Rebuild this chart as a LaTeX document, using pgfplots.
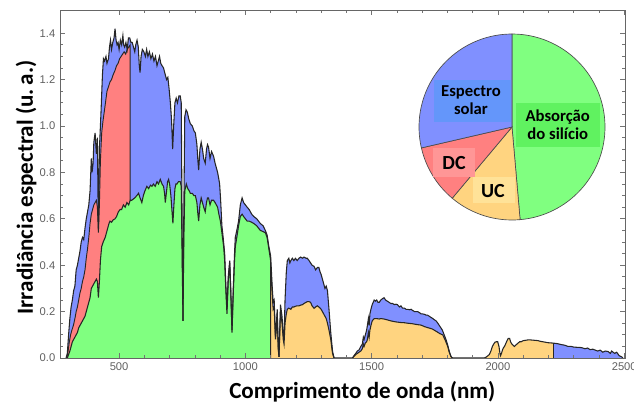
\documentclass[border=0pt]{standalone}
\usepackage{fontspec}
\setmainfont{Liberation Sans}
\newfontfamily\calib{Carlito}
\usepackage{pgfplots}
\pgfplotsset{compat=1.18}
\definecolor{cblue}{RGB}{128,144,255}
\definecolor{cred}{RGB}{255,128,128}
\definecolor{cgreen}{RGB}{128,255,128}
\definecolor{corange}{RGB}{255,212,128}
\definecolor{bblue}{RGB}{100,150,250}
\definecolor{bgreen}{RGB}{96,242,96}
\definecolor{bred}{RGB}{255,150,150}
\definecolor{borange}{RGB}{255,226,152}
\begin{document}
\begin{tikzpicture}
\begin{axis}[
  at={(0,0)}, anchor=south west,
  scale only axis, width=423.75pt, height=261pt,
  xmin=266, xmax=2503, ymin=0, ymax=1.5,
  xtick={500,1000,1500,2000,2500}, minor x tick num=4,
  ytick={0,0.2,0.4,0.6,0.8,1.0,1.2,1.4}, minor y tick num=3,
  tick align=inside, xtick pos=both, ytick pos=both,
  major tick length=4pt, minor tick length=2pt,
  tick style={black!55, line width=0.5pt},
  axis line style={black!60, line width=0.6pt},
  axis on top,
  ticklabel style={font=\fontsize{8.4}{9}\selectfont, text=black!62},
  /pgf/number format/assume math mode=true,
  yticklabel style={/pgf/number format/fixed, /pgf/number format/fixed zerofill, /pgf/number format/precision=1},
  xticklabel style={/pgf/number format/1000 sep={}},
  xlabel={Comprimento de onda (nm)},
  ylabel={Irradiância espectral (u.\,a.)},
  every axis x label/.style={at={(axis description cs:0.535,0)}, anchor=base, yshift=-30pt, font=\calib\bfseries\fontsize{17.3}{19}\selectfont},
  every axis y label/.style={at={(axis description cs:0,0.49)}, anchor=base, rotate=90, yshift=20.25pt, font=\calib\bfseries\fontsize{17.3}{19}\selectfont},
]
% solar spectrum (blue)
\addplot[fill=cblue, draw=none] coordinates {
(290,0)(295,0.02)(300,0.10)(305,0.17)(310,0.22)(315,0.25)(320,0.29)(325,0.31)(330,0.38)(335,0.40)(340,0.43)(345,0.46)(350,0.50)(355,0.52)(360,0.51)(365,0.56)(370,0.60)(375,0.63)(380,0.66)(385,0.72)(390,0.86)(393,0.80)(397,0.84)(400,0.93)(405,0.97)(410,0.88)(414,0.95)(418,0.55)(422,0.90)(428,1.05)(434,1.22)(438,1.29)(442,1.28)(448,1.30)(452,1.27)(458,1.29)(462,1.34)(466,1.37)(470,1.33)(475,1.36)(480,1.38)(484,1.42)(488,1.37)(492,1.35)(496,1.36)(500,1.33)(505,1.37)(510,1.35)(515,1.39)(518,1.35)(522,1.34)(527,1.36)(532,1.33)(537,1.38)(542,1.38)(547,1.36)(552,1.36)(557,1.34)(562,1.32)(566,1.35)(571,1.37)(576,1.34)(580,1.26)(583,1.23)(587,1.30)(592,1.33)(598,1.32)(604,1.30)(609,1.33)(614,1.30)(620,1.32)(626,1.29)(632,1.31)(638,1.28)(644,1.30)(650,1.26)(655,1.28)(660,1.30)(665,1.27)(670,1.26)(676,1.25)(683,1.22)(688,1.20)(693,1.21)(698,1.16)(703,1.10)(708,1.02)(712,0.90)(716,1.00)(721,1.10)(726,1.12)(731,1.10)(737,1.13)(742,1.13)(746,1.10)(750,0.50)(753,0.16)(756,0.60)(760,1.04)(765,1.07)(770,1.06)(776,1.03)(782,1.01)(790,1.00)(796,0.98)(802,0.97)(808,0.92)(812,0.85)(815,0.81)(820,0.90)(825,0.93)(830,0.90)(835,0.86)(841,0.84)(846,0.90)(850,0.92)(854,0.91)(860,0.86)(866,0.89)(870,0.88)(874,0.87)(880,0.84)(885,0.82)(890,0.80)(895,0.77)(898,0.75)(902,0.68)(907,0.57)(912,0.52)(918,0.45)(922,0.33)(927,0.21)(932,0.35)(938,0.42)(942,0.30)(947,0.12)(952,0.30)(957,0.45)(960,0.52)(966,0.55)(973,0.59)(980,0.66)(987,0.69)(993,0.67)(1000,0.66)(1007,0.65)(1015,0.64)(1025,0.62)(1033,0.61)(1045,0.60)(1059,0.58)(1070,0.57)(1079,0.55)(1086,0.53)(1093,0.48)(1100,0.44)(1106,0.31)(1110,0.24)(1114,0.25)(1119,0.09)(1123,0.15)(1126,0.21)(1130,0.05)(1133,0.005)(1136,0.12)(1139,0.23)(1145,0.18)(1150,0.10)(1153,0.08)(1157,0.25)(1162,0.37)(1166,0.42)(1172,0.43)(1176,0.41)(1180,0.42)(1186,0.43)(1192,0.42)(1198,0.43)(1205,0.42)(1212,0.43)(1219,0.435)(1226,0.43)(1232,0.435)(1240,0.43)(1245,0.43)(1252,0.42)(1258,0.41)(1264,0.40)(1272,0.395)(1278,0.38)(1285,0.39)(1291,0.39)(1296,0.37)(1300,0.36)(1305,0.34)(1310,0.32)(1315,0.30)(1320,0.31)(1325,0.29)(1331,0.21)(1338,0.11)(1345,0.03)(1351,0.0)(1424,0.0)(1430,0.01)(1437,0.02)(1443,0.03)(1450,0.035)(1457,0.05)(1463,0.06)(1467,0.09)(1470,0.08)(1475,0.10)(1480,0.12)(1483,0.14)(1487,0.17)(1490,0.14)(1493,0.19)(1497,0.21)(1502,0.23)(1506,0.24)(1510,0.25)(1515,0.245)(1520,0.25)(1525,0.24)(1530,0.24)(1536,0.25)(1542,0.255)(1549,0.26)(1555,0.25)(1562,0.245)(1569,0.24)(1576,0.235)(1583,0.235)(1590,0.23)(1596,0.232)(1602,0.23)(1610,0.22)(1616,0.225)(1622,0.215)(1630,0.215)(1636,0.21)(1642,0.21)(1650,0.208)(1656,0.21)(1662,0.205)(1670,0.20)(1676,0.20)(1682,0.20)(1690,0.195)(1696,0.19)(1702,0.19)(1710,0.188)(1715,0.185)(1721,0.185)(1728,0.18)(1735,0.175)(1742,0.17)(1748,0.165)(1755,0.16)(1762,0.15)(1768,0.14)(1774,0.13)(1780,0.12)(1787,0.10)(1794,0.08)(1800,0.06)(1807,0.03)(1814,0.006)(1820,0.0)(1946,0.0)(1955,0.005)(1960,0.01)(1966,0.015)(1972,0.03)(1978,0.05)(1983,0.06)(1988,0.068)(1993,0.07)(1999,0.07)(2004,0.05)(2008,0.02)(2010,0.01)(2014,0.02)(2018,0.035)(2022,0.045)(2026,0.05)(2030,0.06)(2036,0.075)(2041,0.085)(2046,0.085)(2050,0.07)(2055,0.06)(2060,0.055)(2065,0.05)(2070,0.055)(2075,0.06)(2080,0.065)(2086,0.07)(2092,0.07)(2100,0.075)(2108,0.076)(2118,0.078)(2128,0.078)(2138,0.077)(2148,0.076)(2158,0.075)(2168,0.072)(2178,0.07)(2188,0.068)(2198,0.066)(2210,0.065)(2221,0.064)(2235,0.062)(2250,0.058)(2265,0.055)(2277,0.05)(2290,0.05)(2300,0.047)(2315,0.046)(2330,0.045)(2345,0.04)(2355,0.043)(2365,0.036)(2375,0.038)(2383,0.035)(2395,0.03)(2405,0.034)(2415,0.025)(2425,0.03)(2436,0.028)(2445,0.02)(2450,0.03)(2462,0.02)(2470,0.025)(2480,0.01)(2490,0.005)(2495,0)
} \closedcycle;
% DC (red)
\addplot[fill=cred, draw=none] coordinates {
(293,0)(298,0.03)(303,0.07)(308,0.10)(313,0.12)(319,0.14)(325,0.17)(330,0.20)(335,0.22)(340,0.25)(345,0.28)(350,0.30)(355,0.33)(360,0.35)(365,0.38)(370,0.43)(375,0.47)(380,0.52)(385,0.58)(390,0.62)(395,0.64)(400,0.66)(405,0.67)(410,0.68)(414,0.65)(418,0.54)(422,0.66)(426,0.85)(431,0.97)(436,1.02)(441,1.06)(446,1.10)(452,1.15)(458,1.17)(464,1.19)(470,1.20)(476,1.22)(484,1.24)(490,1.26)(496,1.27)(502,1.29)(508,1.30)(514,1.31)(520,1.32)(526,1.31)(532,1.33)(538,1.34)(544,1.35)(544,0)
} \closedcycle;
% silicon absorption (green)
\addplot[fill=cgreen, draw=none] coordinates {
(295,0)(300,0.015)(305,0.03)(310,0.05)(315,0.07)(320,0.08)(325,0.09)(330,0.10)(335,0.11)(340,0.13)(345,0.14)(350,0.15)(355,0.16)(360,0.17)(365,0.18)(370,0.20)(375,0.22)(380,0.24)(385,0.26)(390,0.30)(395,0.31)(400,0.32)(405,0.33)(410,0.34)(414,0.33)(418,0.26)(422,0.33)(426,0.42)(431,0.48)(437,0.50)(445,0.52)(450,0.54)(455,0.56)(460,0.58)(464,0.59)(470,0.585)(476,0.595)(484,0.60)(490,0.61)(497,0.63)(504,0.64)(510,0.64)(517,0.66)(524,0.65)(531,0.67)(538,0.66)(544,0.68)(550,0.68)(556,0.685)(562,0.69)(570,0.70)(577,0.71)(583,0.69)(590,0.67)(596,0.70)(602,0.72)(610,0.74)(617,0.73)(624,0.745)(630,0.74)(636,0.75)(643,0.74)(650,0.76)(656,0.75)(663,0.77)(670,0.75)(676,0.74)(680,0.71)(683,0.67)(688,0.72)(692,0.76)(696,0.77)(700,0.75)(705,0.70)(709,0.64)(713,0.58)(717,0.66)(721,0.73)(725,0.75)(729,0.75)(735,0.76)(742,0.76)(746,0.74)(750,0.40)(753,0.16)(756,0.50)(760,0.72)(766,0.75)(772,0.73)(778,0.72)(782,0.71)(790,0.71)(796,0.70)(802,0.70)(808,0.67)(812,0.62)(815,0.59)(820,0.66)(825,0.69)(830,0.67)(835,0.65)(841,0.63)(846,0.67)(850,0.69)(854,0.69)(860,0.66)(866,0.68)(870,0.68)(874,0.68)(880,0.67)(885,0.66)(890,0.65)(895,0.62)(901,0.59)(907,0.54)(914,0.48)(918,0.42)(922,0.31)(927,0.19)(932,0.33)(938,0.41)(942,0.29)(947,0.11)(952,0.28)(957,0.42)(960,0.48)(966,0.52)(973,0.57)(980,0.61)(987,0.62)(993,0.61)(1000,0.60)(1007,0.59)(1015,0.59)(1025,0.585)(1033,0.58)(1045,0.57)(1059,0.55)(1070,0.545)(1079,0.54)(1086,0.52)(1093,0.47)(1100,0.42)(1100,0)
} \closedcycle;
% UC (orange)
\addplot[fill=corange, draw=none] coordinates {
(1100,0)(1100,0.40)(1106,0.28)(1110,0.21)(1114,0.22)(1119,0.08)(1123,0.13)(1126,0.19)(1130,0.04)(1133,0.005)(1136,0.10)(1139,0.20)(1145,0.15)(1150,0.08)(1153,0.06)(1157,0.15)(1162,0.19)(1166,0.21)(1172,0.215)(1180,0.21)(1186,0.22)(1192,0.22)(1198,0.223)(1205,0.225)(1212,0.225)(1219,0.228)(1226,0.23)(1232,0.235)(1240,0.24)(1245,0.243)(1252,0.243)(1258,0.24)(1264,0.225)(1272,0.214)(1278,0.22)(1285,0.225)(1291,0.22)(1296,0.215)(1300,0.21)(1305,0.20)(1310,0.19)(1315,0.18)(1320,0.17)(1325,0.15)(1331,0.12)(1338,0.08)(1345,0.02)(1351,0)(1424,0)(1437,0.015)(1450,0.025)(1457,0.03)(1463,0.04)(1467,0.06)(1470,0.05)(1475,0.065)(1480,0.07)(1483,0.08)(1487,0.11)(1490,0.09)(1493,0.12)(1497,0.14)(1502,0.16)(1506,0.165)(1510,0.17)(1520,0.17)(1530,0.168)(1536,0.17)(1549,0.168)(1560,0.165)(1576,0.16)(1589,0.157)(1600,0.155)(1615,0.153)(1630,0.152)(1642,0.15)(1660,0.148)(1680,0.144)(1695,0.142)(1710,0.135)(1725,0.13)(1740,0.125)(1748,0.12)(1760,0.112)(1770,0.105)(1781,0.10)(1790,0.08)(1801,0.05)(1807,0.025)(1814,0.006)(1820,0)(1946,0.0)(1955,0.005)(1960,0.01)(1966,0.015)(1972,0.03)(1978,0.05)(1983,0.06)(1988,0.068)(1993,0.07)(1999,0.07)(2004,0.05)(2008,0.02)(2010,0.01)(2014,0.02)(2018,0.035)(2022,0.045)(2026,0.05)(2030,0.06)(2036,0.075)(2041,0.085)(2046,0.085)(2050,0.07)(2055,0.06)(2060,0.055)(2065,0.05)(2070,0.055)(2075,0.06)(2080,0.065)(2086,0.07)(2092,0.07)(2100,0.075)(2108,0.076)(2118,0.078)(2128,0.078)(2138,0.077)(2148,0.076)(2158,0.075)(2168,0.072)(2178,0.07)(2188,0.068)(2198,0.066)(2210,0.065)(2221,0.064)(2221,0)
} \closedcycle;
% outlines
\addplot[black!85, line width=0.8pt] coordinates {
(290,0)(295,0.02)(300,0.10)(305,0.17)(310,0.22)(315,0.25)(320,0.29)(325,0.31)(330,0.38)(335,0.40)(340,0.43)(345,0.46)(350,0.50)(355,0.52)(360,0.51)(365,0.56)(370,0.60)(375,0.63)(380,0.66)(385,0.72)(390,0.86)(393,0.80)(397,0.84)(400,0.93)(405,0.97)(410,0.88)(414,0.95)(418,0.55)(422,0.90)(428,1.05)(434,1.22)(438,1.29)(442,1.28)(448,1.30)(452,1.27)(458,1.29)(462,1.34)(466,1.37)(470,1.33)(475,1.36)(480,1.38)(484,1.42)(488,1.37)(492,1.35)(496,1.36)(500,1.33)(505,1.37)(510,1.35)(515,1.39)(518,1.35)(522,1.34)(527,1.36)(532,1.33)(537,1.38)(542,1.38)(547,1.36)(552,1.36)(557,1.34)(562,1.32)(566,1.35)(571,1.37)(576,1.34)(580,1.26)(583,1.23)(587,1.30)(592,1.33)(598,1.32)(604,1.30)(609,1.33)(614,1.30)(620,1.32)(626,1.29)(632,1.31)(638,1.28)(644,1.30)(650,1.26)(655,1.28)(660,1.30)(665,1.27)(670,1.26)(676,1.25)(683,1.22)(688,1.20)(693,1.21)(698,1.16)(703,1.10)(708,1.02)(712,0.90)(716,1.00)(721,1.10)(726,1.12)(731,1.10)(737,1.13)(742,1.13)(746,1.10)(750,0.50)(753,0.16)(756,0.60)(760,1.04)(765,1.07)(770,1.06)(776,1.03)(782,1.01)(790,1.00)(796,0.98)(802,0.97)(808,0.92)(812,0.85)(815,0.81)(820,0.90)(825,0.93)(830,0.90)(835,0.86)(841,0.84)(846,0.90)(850,0.92)(854,0.91)(860,0.86)(866,0.89)(870,0.88)(874,0.87)(880,0.84)(885,0.82)(890,0.80)(895,0.77)(898,0.75)(902,0.68)(907,0.57)(912,0.52)(918,0.45)(922,0.33)(927,0.21)(932,0.35)(938,0.42)(942,0.30)(947,0.12)(952,0.30)(957,0.45)(960,0.52)(966,0.55)(973,0.59)(980,0.66)(987,0.69)(993,0.67)(1000,0.66)(1007,0.65)(1015,0.64)(1025,0.62)(1033,0.61)(1045,0.60)(1059,0.58)(1070,0.57)(1079,0.55)(1086,0.53)(1093,0.48)(1100,0.44)(1106,0.31)(1110,0.24)(1114,0.25)(1119,0.09)(1123,0.15)(1126,0.21)(1130,0.05)(1133,0.005)(1136,0.12)(1139,0.23)(1145,0.18)(1150,0.10)(1153,0.08)(1157,0.25)(1162,0.37)(1166,0.42)(1172,0.43)(1176,0.41)(1180,0.42)(1186,0.43)(1192,0.42)(1198,0.43)(1205,0.42)(1212,0.43)(1219,0.435)(1226,0.43)(1232,0.435)(1240,0.43)(1245,0.43)(1252,0.42)(1258,0.41)(1264,0.40)(1272,0.395)(1278,0.38)(1285,0.39)(1291,0.39)(1296,0.37)(1300,0.36)(1305,0.34)(1310,0.32)(1315,0.30)(1320,0.31)(1325,0.29)(1331,0.21)(1338,0.11)(1345,0.03)(1351,0.0)(1424,0.0)(1430,0.01)(1437,0.02)(1443,0.03)(1450,0.035)(1457,0.05)(1463,0.06)(1467,0.09)(1470,0.08)(1475,0.10)(1480,0.12)(1483,0.14)(1487,0.17)(1490,0.14)(1493,0.19)(1497,0.21)(1502,0.23)(1506,0.24)(1510,0.25)(1515,0.245)(1520,0.25)(1525,0.24)(1530,0.24)(1536,0.25)(1542,0.255)(1549,0.26)(1555,0.25)(1562,0.245)(1569,0.24)(1576,0.235)(1583,0.235)(1590,0.23)(1596,0.232)(1602,0.23)(1610,0.22)(1616,0.225)(1622,0.215)(1630,0.215)(1636,0.21)(1642,0.21)(1650,0.208)(1656,0.21)(1662,0.205)(1670,0.20)(1676,0.20)(1682,0.20)(1690,0.195)(1696,0.19)(1702,0.19)(1710,0.188)(1715,0.185)(1721,0.185)(1728,0.18)(1735,0.175)(1742,0.17)(1748,0.165)(1755,0.16)(1762,0.15)(1768,0.14)(1774,0.13)(1780,0.12)(1787,0.10)(1794,0.08)(1800,0.06)(1807,0.03)(1814,0.006)(1820,0.0)(1946,0.0)(1955,0.005)(1960,0.01)(1966,0.015)(1972,0.03)(1978,0.05)(1983,0.06)(1988,0.068)(1993,0.07)(1999,0.07)(2004,0.05)(2008,0.02)(2010,0.01)(2014,0.02)(2018,0.035)(2022,0.045)(2026,0.05)(2030,0.06)(2036,0.075)(2041,0.085)(2046,0.085)(2050,0.07)(2055,0.06)(2060,0.055)(2065,0.05)(2070,0.055)(2075,0.06)(2080,0.065)(2086,0.07)(2092,0.07)(2100,0.075)(2108,0.076)(2118,0.078)(2128,0.078)(2138,0.077)(2148,0.076)(2158,0.075)(2168,0.072)(2178,0.07)(2188,0.068)(2198,0.066)(2210,0.065)(2221,0.064)(2235,0.062)(2250,0.058)(2265,0.055)(2277,0.05)(2290,0.05)(2300,0.047)(2315,0.046)(2330,0.045)(2345,0.04)(2355,0.043)(2365,0.036)(2375,0.038)(2383,0.035)(2395,0.03)(2405,0.034)(2415,0.025)(2425,0.03)(2436,0.028)(2445,0.02)(2450,0.03)(2462,0.02)(2470,0.025)(2480,0.01)(2490,0.005)(2495,0)
};
\addplot[black!85, line width=0.7pt] coordinates {
(293,0)(298,0.03)(303,0.07)(308,0.10)(313,0.12)(319,0.14)(325,0.17)(330,0.20)(335,0.22)(340,0.25)(345,0.28)(350,0.30)(355,0.33)(360,0.35)(365,0.38)(370,0.43)(375,0.47)(380,0.52)(385,0.58)(390,0.62)(395,0.64)(400,0.66)(405,0.67)(410,0.68)(414,0.65)(418,0.54)(422,0.66)(426,0.85)(431,0.97)(436,1.02)(441,1.06)(446,1.10)(452,1.15)(458,1.17)(464,1.19)(470,1.20)(476,1.22)(484,1.24)(490,1.26)(496,1.27)(502,1.29)(508,1.30)(514,1.31)(520,1.32)(526,1.31)(532,1.33)(538,1.34)(544,1.35)(544,0.68)
};
\addplot[black!85, line width=0.8pt] coordinates {
(295,0)(300,0.015)(305,0.03)(310,0.05)(315,0.07)(320,0.08)(325,0.09)(330,0.10)(335,0.11)(340,0.13)(345,0.14)(350,0.15)(355,0.16)(360,0.17)(365,0.18)(370,0.20)(375,0.22)(380,0.24)(385,0.26)(390,0.30)(395,0.31)(400,0.32)(405,0.33)(410,0.34)(414,0.33)(418,0.26)(422,0.33)(426,0.42)(431,0.48)(437,0.50)(445,0.52)(450,0.54)(455,0.56)(460,0.58)(464,0.59)(470,0.585)(476,0.595)(484,0.60)(490,0.61)(497,0.63)(504,0.64)(510,0.64)(517,0.66)(524,0.65)(531,0.67)(538,0.66)(544,0.68)(550,0.68)(556,0.685)(562,0.69)(570,0.70)(577,0.71)(583,0.69)(590,0.67)(596,0.70)(602,0.72)(610,0.74)(617,0.73)(624,0.745)(630,0.74)(636,0.75)(643,0.74)(650,0.76)(656,0.75)(663,0.77)(670,0.75)(676,0.74)(680,0.71)(683,0.67)(688,0.72)(692,0.76)(696,0.77)(700,0.75)(705,0.70)(709,0.64)(713,0.58)(717,0.66)(721,0.73)(725,0.75)(729,0.75)(735,0.76)(742,0.76)(746,0.74)(750,0.40)(753,0.16)(756,0.50)(760,0.72)(766,0.75)(772,0.73)(778,0.72)(782,0.71)(790,0.71)(796,0.70)(802,0.70)(808,0.67)(812,0.62)(815,0.59)(820,0.66)(825,0.69)(830,0.67)(835,0.65)(841,0.63)(846,0.67)(850,0.69)(854,0.69)(860,0.66)(866,0.68)(870,0.68)(874,0.68)(880,0.67)(885,0.66)(890,0.65)(895,0.62)(901,0.59)(907,0.54)(914,0.48)(918,0.42)(922,0.31)(927,0.19)(932,0.33)(938,0.41)(942,0.29)(947,0.11)(952,0.28)(957,0.42)(960,0.48)(966,0.52)(973,0.57)(980,0.61)(987,0.62)(993,0.61)(1000,0.60)(1007,0.59)(1015,0.59)(1025,0.585)(1033,0.58)(1045,0.57)(1059,0.55)(1070,0.545)(1079,0.54)(1086,0.52)(1093,0.47)(1100,0.42)(1100,0)
};
\addplot[black!85, line width=0.8pt] coordinates {
(1100,0.40)(1106,0.28)(1110,0.21)(1114,0.22)(1119,0.08)(1123,0.13)(1126,0.19)(1130,0.04)(1133,0.005)(1136,0.10)(1139,0.20)(1145,0.15)(1150,0.08)(1153,0.06)(1157,0.15)(1162,0.19)(1166,0.21)(1172,0.215)(1180,0.21)(1186,0.22)(1192,0.22)(1198,0.223)(1205,0.225)(1212,0.225)(1219,0.228)(1226,0.23)(1232,0.235)(1240,0.24)(1245,0.243)(1252,0.243)(1258,0.24)(1264,0.225)(1272,0.214)(1278,0.22)(1285,0.225)(1291,0.22)(1296,0.215)(1300,0.21)(1305,0.20)(1310,0.19)(1315,0.18)(1320,0.17)(1325,0.15)(1331,0.12)(1338,0.08)(1345,0.02)(1351,0)
};
\addplot[black!85, line width=0.8pt] coordinates {
(1424,0)(1437,0.015)(1450,0.025)(1457,0.03)(1463,0.04)(1467,0.06)(1470,0.05)(1475,0.065)(1480,0.07)(1483,0.08)(1487,0.11)(1490,0.09)(1493,0.12)(1497,0.14)(1502,0.16)(1506,0.165)(1510,0.17)(1520,0.17)(1530,0.168)(1536,0.17)(1549,0.168)(1560,0.165)(1576,0.16)(1589,0.157)(1600,0.155)(1615,0.153)(1630,0.152)(1642,0.15)(1660,0.148)(1680,0.144)(1695,0.142)(1710,0.135)(1725,0.13)(1740,0.125)(1748,0.12)(1760,0.112)(1770,0.105)(1781,0.10)(1790,0.08)(1801,0.05)(1807,0.025)(1814,0.006)(1820,0)
};
\addplot[black!85, line width=0.6pt] coordinates {(2221,0.064)(2221,0)};
\end{axis}
% inset pie chart: shares in degrees (Absorcao 175, UC 45, DC 37, Espectro 103)
\begin{scope}[shift={(339pt,173.25pt)}]
\def\R{69.75pt}
\filldraw[fill=cgreen, draw=black!70, line width=0.5pt] (0,0) -- (90:\R) arc[start angle=90, end angle=-85, radius=\R] -- cycle;
\filldraw[fill=corange, draw=black!70, line width=0.5pt] (0,0) -- (-85:\R) arc[start angle=-85, end angle=-130, radius=\R] -- cycle;
\filldraw[fill=cred, draw=black!70, line width=0.5pt] (0,0) -- (-130:\R) arc[start angle=-130, end angle=-167, radius=\R] -- cycle;
\filldraw[fill=cblue, draw=black!70, line width=0.5pt] (0,0) -- (-167:\R) arc[start angle=-167, end angle=-270, radius=\R] -- cycle;
\end{scope}
\fill[bblue] (280.5pt,177pt) rectangle (338.25pt,208.5pt);
\fill[bgreen] (342pt,158.25pt) rectangle (405pt,191.25pt);
\fill[bred] (279.75pt,135.75pt) rectangle (311.25pt,157.5pt);
\fill[borange] (309.75pt,116.25pt) rectangle (341.25pt,135.75pt);
\node[anchor=base, inner sep=0pt, font=\calib\bfseries\fontsize{12.5}{14}\selectfont] at (308.2pt,196.5pt) {Espectro};
\node[anchor=base, inner sep=0pt, font=\calib\bfseries\fontsize{12.5}{14}\selectfont] at (308.2pt,183pt) {solar};
\node[anchor=base, inner sep=0pt, font=\calib\bfseries\fontsize{12.5}{14}\selectfont] at (373.3pt,177.5pt) {Absorção};
\node[anchor=base, inner sep=0pt, font=\calib\bfseries\fontsize{12.5}{14}\selectfont] at (373.3pt,164pt) {do silício};
\node[anchor=base, inner sep=0pt, font=\calib\bfseries\fontsize{15}{16}\selectfont] at (295.5pt,141.5pt) {DC};
\node[anchor=base, inner sep=0pt, font=\calib\bfseries\fontsize{15}{16}\selectfont] at (324.75pt,120.5pt) {UC};
\pgfresetboundingbox
\path (-45pt,-35.25pt) rectangle (430.5pt,268.5pt);
\end{tikzpicture}
\end{document}
